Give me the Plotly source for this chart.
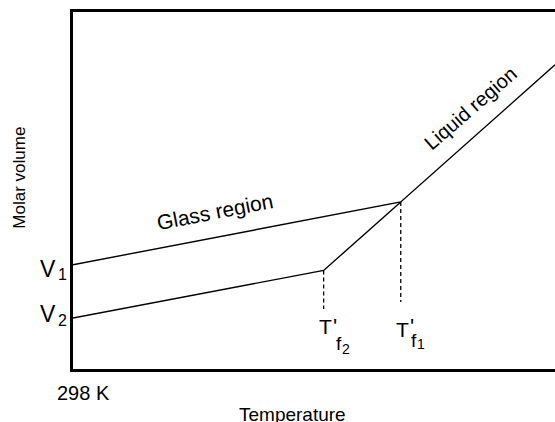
import plotly.graph_objects as go

# ---- data (arbitrary units) ----
T_START, T_F2, T_F1, T_END = 0, 52, 68, 100
V_1, V_2 = 29.2, 14.3
V_AT_TF1, V_AT_TF2, V_AT_END = 46.8, 27.6, 85.2

upper_T = [T_START, T_F1, T_END]
upper_V = [V_1, V_AT_TF1, V_AT_END]
lower_T = [T_START, T_F2, T_F1]
lower_V = [V_2, V_AT_TF2, V_AT_TF1]
drop_tf2_V = [V_AT_TF2, 16.8]
drop_tf1_V = [V_AT_TF1, 18.8]

FONT = "Liberation Sans, Arial, Helvetica, sans-serif"

fig = go.Figure()
line = dict(color="black", width=1.4)
fig.add_trace(go.Scatter(x=upper_T, y=upper_V, mode="lines", line=line, hoverinfo="skip"))
fig.add_trace(go.Scatter(x=lower_T, y=lower_V, mode="lines", line=line, hoverinfo="skip"))
dash = dict(color="black", width=1.3, dash="4px,3px")
fig.add_trace(go.Scatter(x=[T_F2, T_F2], y=drop_tf2_V, mode="lines", line=dash, hoverinfo="skip"))
fig.add_trace(go.Scatter(x=[T_F1, T_F1], y=drop_tf1_V, mode="lines", line=dash, hoverinfo="skip"))

ann = []
def A(text, x, y, size, xref="x", yref="y", xshift=0, yshift=0, angle=0,
      xanchor="center", yanchor="middle"):
    ann.append(dict(text=text, x=x, y=y, xref=xref, yref=yref, showarrow=False,
                    font=dict(family=FONT, size=size, color="black"),
                    xshift=xshift, yshift=yshift, textangle=angle,
                    xanchor=xanchor, yanchor=yanchor, borderpad=0))

# axis labels
A("Molar volume", 0, 0.536, 17, xref="paper", yref="paper", xshift=-53, angle=-90)
A("Temperature", 0.456, 0, 19, xref="paper", yref="paper", yshift=-45)
A("298 K", T_START, 0, 20, yref="paper", xshift=10, yshift=-23.5)

# V labels
A("V", T_START, V_1, 23, xshift=-16, yshift=-4.4, xanchor="right")
A("1", T_START, V_1, 16, xshift=-16, yshift=-9.7, xanchor="left")
A("V", T_START, V_2, 23, xshift=-16, yshift=3.6, xanchor="right")
A("2", T_START, V_2, 16, xshift=-16, yshift=-2.7, xanchor="left")

# region labels
A("Glass region", 29.5, V_1 + (V_AT_TF1 - V_1) * 29.5 / T_F1, 21, yshift=26, angle=-11)
liq_x = 82.5
A("Liquid region", liq_x, V_AT_TF1 + (V_AT_END - V_AT_TF1) * (liq_x - T_F1) / (T_END - T_F1),
  20, yshift=32, angle=-41)

# T'f labels: (temperature, subscript, T yshift, f left, f yshift, sub left, sub yshift)
for tf, sub, t_ys, f_x, f_ys, s_x, s_ys in [(T_F2, "2", 43, 11, 25.3, 17, 19.6),
                                             (T_F1, "1", 40, 9, 28.3, 15, 24.6)]:
    A("T", tf, 0, 21, yref="paper", xshift=1.5, yshift=t_ys)
    A("'", tf, 0, 22, yref="paper", xshift=11, yshift=42.6)
    A("f", tf, 0, 19, yref="paper", xshift=f_x, yshift=f_ys, xanchor="left")
    A(sub, tf, 0, 14, yref="paper", xshift=s_x, yshift=s_ys, xanchor="left")

fig.update_layout(
    width=555, height=422,
    margin=dict(l=73, r=0, t=12, b=53),
    paper_bgcolor="white", plot_bgcolor="white",
    showlegend=False,
    annotations=ann,
    xaxis=dict(range=[0, 100], showgrid=False, zeroline=False, showticklabels=False,
               ticks="", showline=True, linecolor="black", linewidth=2.5, mirror=True),
    yaxis=dict(range=[0, 100], showgrid=False, zeroline=False, showticklabels=False,
               ticks="", showline=True, linecolor="black", linewidth=2.5, mirror=False),
)
fig.write_html("out.html")
